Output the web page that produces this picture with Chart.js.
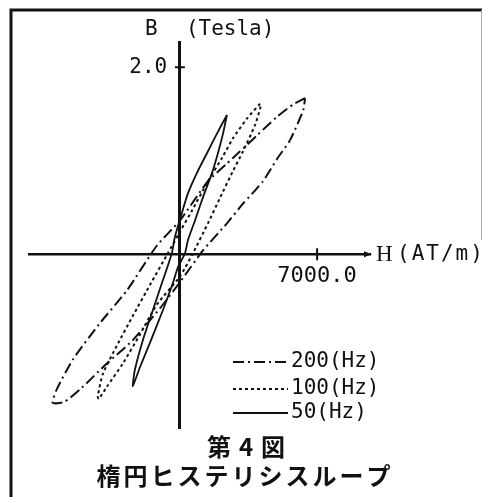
<!DOCTYPE html>
<html>
<head>
<meta charset="utf-8">
<script src="https://cdn.jsdelivr.net/npm/chart.js@4/dist/chart.umd.min.js"></script>
<style>
  html, body { margin: 0; padding: 0; background: #fff; }
  canvas { display: block; }
</style>
</head>
<body>
<canvas id="loopChart" width="483" height="497"></canvas>
<script>
// H in AT/m, B in Tesla; each loop starts and ends at its upper tip
const h200 = [6390, 5770, 4960, 3930, 3070, 2400, 1430, 0, -1180, -2710, -4090, -5470, -6290, -6490,
  -5900, -5110, -3730, -2450, -1020, 0, 1180, 2400, 3220, 4240, 4960, 5620, 6290, 6390];
const b200 = [1.67, 1.60, 1.47, 1.27, 1.10, 0.97, 0.78, 0.36, 0.09, -0.39, -0.74, -1.13, -1.45, -1.59,
  -1.58, -1.45, -1.17, -0.93, -0.58, -0.30, 0.04, 0.33, 0.54, 0.78, 1.02, 1.22, 1.54, 1.67];

const h100 = [4090, 3420, 2710, 2150, 1430, 600, 0, -640, -1530, -2400, -3220, -3930, -4190,
  -4140, -3730, -2910, -2040, -1180, 0, 640, 1430, 2040, 2710, 3220, 3830, 4120, 4090];
const b100 = [1.61, 1.45, 1.24, 1.03, 0.78, 0.46, 0.24, 0.00, -0.33, -0.66, -0.98, -1.28, -1.52,
  -1.55, -1.42, -1.17, -0.86, -0.54, -0.24, 0.00, 0.33, 0.60, 0.89, 1.10, 1.38, 1.58, 1.61];

const h50 = [2400, 1890, 1380, 870, 410, 100, -260, -410, -870, -1380, -1890, -2300, -2400,
  -2040, -1530, -870, -360, -100, 260, 410, 770, 1180, 1640, 1940, 2200, 2400];
const b50 = [1.49, 1.29, 1.08, 0.87, 0.65, 0.44, 0.18, 0.01, -0.28, -0.60, -0.92, -1.24, -1.41,
  -1.21, -0.95, -0.60, -0.31, -0.14, 0.01, 0.15, 0.36, 0.61, 0.87, 1.08, 1.29, 1.49];

const seriesLabels = ["200(Hz)", "100(Hz)", "50(Hz)"];
const xTicks = [7000];
const yTicks = [2.0];
const xRange = [-7700, 9700];
const yRange = [-1.86, 2.27];

const ink = "#111";
const mono = '"DejaVu Sans Mono", monospace';

function toPoints(h, b) {
  return h.map((v, i) => ({ x: v, y: b[i] }));
}

// frame, crossing ticks, axis names, legend and caption
const sheet = {
  id: "sheet",
  beforeDraw(chart) {
    const ctx = chart.ctx;
    ctx.save();
    ctx.fillStyle = "#fff";
    ctx.fillRect(0, 0, chart.width, chart.height);
    ctx.strokeStyle = ink;
    ctx.lineWidth = 3;
    ctx.beginPath();
    ctx.moveTo(11, 497);
    ctx.lineTo(11, 10);
    ctx.lineTo(482, 10);
    ctx.stroke();
    ctx.strokeStyle = "#aaa";
    ctx.lineWidth = 1;
    ctx.beginPath();
    ctx.moveTo(481.5, 10);
    ctx.lineTo(481.5, 240);
    ctx.stroke();
    ctx.restore();
  },
  afterDraw(chart) {
    const ctx = chart.ctx;
    const xs = chart.scales.x;
    const ys = chart.scales.y;
    const x0 = xs.getPixelForValue(0);
    const y0 = ys.getPixelForValue(0);
    ctx.save();
    ctx.strokeStyle = ink;
    ctx.fillStyle = ink;
    ctx.lineWidth = 2;
    ctx.setLineDash([]);

    // ticks cross the axis lines
    ctx.beginPath();
    xTicks.forEach(v => {
      const px = xs.getPixelForValue(v);
      ctx.moveTo(px, y0 - 6);
      ctx.lineTo(px, y0 + 6);
    });
    yTicks.forEach(v => {
      const py = ys.getPixelForValue(v);
      ctx.moveTo(x0 - 5, py);
      ctx.lineTo(x0 + 5, py);
    });
    ctx.stroke();

    // small arrow at the end of the H axis
    ctx.beginPath();
    ctx.moveTo(xs.right + 2, y0);
    ctx.lineTo(xs.right - 6, y0 - 3);
    ctx.lineTo(xs.right - 6, y0 + 3);
    ctx.closePath();
    ctx.fill();

    // axis names
    ctx.textBaseline = "middle";
    ctx.textAlign = "left";
    ctx.font = "21px " + mono;
    ctx.fillText("B", x0 - 35, ys.top - 12);
    ctx.fillText("(Tesla)", x0 + 6, ys.top - 12);
    ctx.font = '23px "Liberation Serif", serif';
    ctx.fillText("H", xs.right + 6, y0 + 1);
    ctx.font = "21px " + mono;
    ctx.letterSpacing = "2px";
    ctx.fillText("(AT/m)", xs.right + 27, y0);
    ctx.letterSpacing = "0px";

    // legend
    const rows = [362, 389, 413];
    chart.data.datasets.forEach((ds, i) => {
      ctx.lineWidth = ds.borderWidth;
      ctx.setLineDash(ds.borderDash || []);
      ctx.beginPath();
      ctx.moveTo(233, rows[i]);
      ctx.lineTo(288, rows[i]);
      ctx.stroke();
      ctx.setLineDash([]);
      ctx.fillText(ds.label, 291, rows[i]);
    });

    // caption
    ctx.textAlign = "center";
    ctx.font = 'bold 24px "Noto Sans CJK JP", sans-serif';
    ctx.letterSpacing = "8px";
    ctx.fillText("第4図", 250, 447);
    ctx.letterSpacing = "3px";
    ctx.fillText("楕円ヒステリシスループ", 245, 476);
    ctx.letterSpacing = "0px";
    ctx.restore();
  }
};

new Chart(document.getElementById("loopChart"), {
  type: "scatter",
  data: {
    datasets: [
      { label: seriesLabels[0], data: toPoints(h200, b200), borderDash: [11, 4, 2, 4], borderWidth: 2 },
      { label: seriesLabels[1], data: toPoints(h100, b100), borderDash: [3, 3], borderWidth: 2 },
      { label: seriesLabels[2], data: toPoints(h50, b50), borderDash: [], borderWidth: 1.8 }
    ].map(ds => Object.assign(ds, {
      showLine: true,
      borderColor: ink,
      pointRadius: 0,
      tension: 0.2,
      fill: false
    }))
  },
  options: {
    responsive: false,
    animation: false,
    devicePixelRatio: 1,
    layout: { padding: { left: 29, right: 113, top: 42, bottom: 69 } },
    plugins: {
      legend: { display: false },
      tooltip: { enabled: false }
    },
    scales: {
      x: {
        type: "linear",
        position: { y: 0 },
        min: xRange[0],
        max: xRange[1],
        afterBuildTicks: s => { s.ticks = xTicks.map(v => ({ value: v })); },
        ticks: { callback: v => v.toFixed(1), font: { family: mono, size: 22 }, color: ink, padding: 3, maxRotation: 0, autoSkip: false },
        grid: { display: false, drawTicks: true, tickLength: 6 },
        border: { display: true, color: ink, width: 2.5 }
      },
      y: {
        type: "linear",
        position: { x: 0 },
        min: yRange[0],
        max: yRange[1],
        afterBuildTicks: s => { s.ticks = yTicks.map(v => ({ value: v })); },
        // the label sits right against a centred axis, so keep a gap after it
        ticks: { callback: v => v.toFixed(1) + " ", font: { family: mono, size: 21 }, color: ink, autoSkip: false },
        grid: { display: false, drawTicks: true, tickLength: 8 },
        border: { display: true, color: ink, width: 3 }
      }
    }
  },
  plugins: [sheet]
});
</script>
</body>
</html>
